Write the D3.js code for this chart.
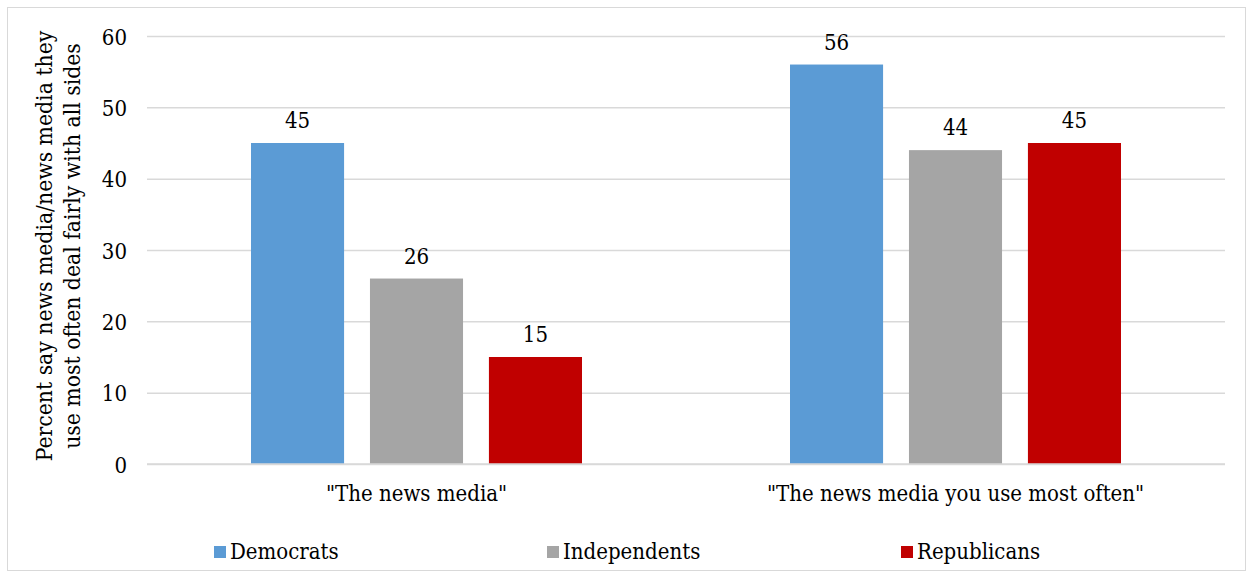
<!DOCTYPE html>
<html><head><meta charset="utf-8">
<script src="https://cdn.jsdelivr.net/npm/d3@7"></script>
<style>
html,body{margin:0;padding:0;background:#fff;}
svg text{font-family:"DejaVu Serif Condensed","DejaVu Serif",serif;font-stretch:condensed;fill:#000;}
</style></head>
<body>
<svg id="chart" width="1252" height="577"></svg>
<script>
const categories = ['"The news media"', '"The news media you use most often"'];
const seriesNames = ["Democrats", "Independents", "Republicans"];
const democrats = [45, 56];
const independents = [26, 44];
const republicans = [15, 45];
const yTicks = [0, 10, 20, 30, 40, 50, 60];
const colors = ["#5B9BD5", "#A5A5A5", "#C00000"];
const yTitle = ["Percent say news media/news media they", "use most often deal fairly with all sides"];

(function () {
const seriesValues = [democrats, independents, republicans];
const svg = d3.select("#chart");
const FS = 22;
const FF = '"DejaVu Serif Condensed","DejaVu Serif",serif';

svg.append("rect").attr("x", 7.5).attr("y", 7.5).attr("width", 1238).attr("height", 563)
  .attr("fill", "#fff").attr("stroke", "#d9d9d9").attr("stroke-width", 1);

const pL = 147, pR = 1225, pT = 36, pB = 464;
const y = d3.scaleLinear().domain([0, 60]).range([pB, pT]);
const x0 = d3.scaleBand().domain(categories).range([pL, pR]).paddingInner(0).paddingOuter(0);
const x1 = d3.scaleBand().domain(seriesNames).range([104, x0.bandwidth() - 104]).paddingInner(26 / 119.5).paddingOuter(0);

const yAxis = d3.axisLeft(y).tickValues(yTicks).tickSize(-(pR - pL)).tickPadding(20);
const gy = svg.append("g").attr("transform", `translate(${pL},0)`).call(yAxis);
gy.select(".domain").remove();
gy.selectAll(".tick line").attr("stroke", "#d9d9d9").attr("stroke-width", 1.5);
gy.selectAll(".tick text").attr("font-size", FS).attr("font-family", FF).attr("fill", "#000").attr("dy", "0.37em");

const groups = svg.append("g").selectAll("g").data(categories).join("g")
  .attr("transform", d => `translate(${x0(d)},0)`);
groups.each(function(cat, ci) {
  const g = d3.select(this);
  seriesNames.forEach((s, si) => {
    const v = seriesValues[si][ci];
    g.append("rect").attr("x", x1(s)).attr("y", y(v)).attr("width", x1.bandwidth())
      .attr("height", y(0) - y(v)).attr("fill", colors[si]);
    g.append("text").attr("x", x1(s) + x1.bandwidth() / 2).attr("y", y(v) - 15)
      .attr("text-anchor", "middle").attr("font-size", FS).text(v);
  });
});

svg.append("line").attr("x1", pL).attr("x2", pR).attr("y1", pB).attr("y2", pB)
  .attr("stroke", "#d9d9d9").attr("stroke-width", 1.5);

const xAxis = d3.axisBottom(x0).tickSize(0).tickPadding(0);
const gx = svg.append("g").attr("transform", `translate(0,${pB})`).call(xAxis);
gx.select(".domain").remove();
gx.selectAll(".tick text").attr("font-size", FS).attr("font-family", FF).attr("fill", "#000")
  .attr("dy", 0).attr("y", 37);

const yt = svg.append("text").attr("transform", "translate(0,246) rotate(-90)").attr("text-anchor", "middle").attr("font-size", 22.7);
yt.selectAll("tspan").data(yTitle).join("tspan").attr("x", 0).attr("y", (d, i) => 52 + i * 28).text(d => d);

const legendX = [214, 547, 901];
const lg = svg.append("g").selectAll("g").data(seriesNames).join("g")
  .attr("transform", (d, i) => `translate(${legendX[i]},546)`);
lg.append("rect").attr("width", 12).attr("height", 12).attr("fill", (d, i) => colors[i]);
lg.append("text").attr("x", 16).attr("y", 13).attr("font-size", FS).text(d => d);
})();
</script>
</body></html>
